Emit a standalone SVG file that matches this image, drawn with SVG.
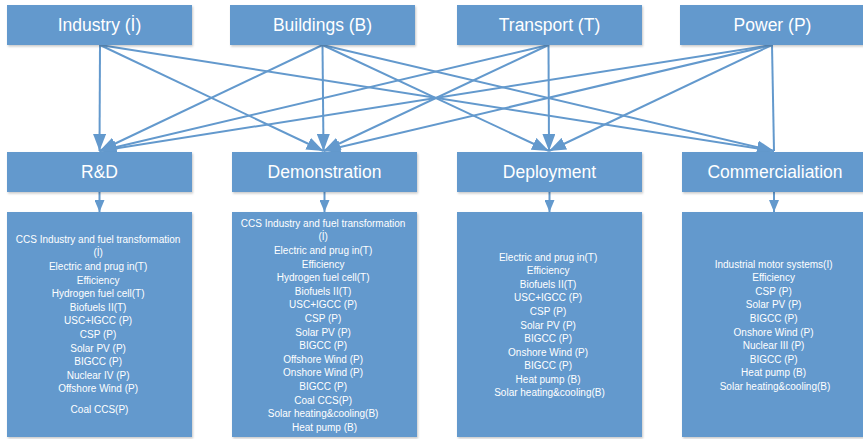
<svg xmlns="http://www.w3.org/2000/svg" width="863" height="439" viewBox="0 0 863 439">
<style>
.box{fill:#6399cd;filter:url(#sh);}
.hd{font-family:"Liberation Sans",Arial,sans-serif;font-size:17.5px;fill:#ffffff;text-anchor:middle;}
.ls{font-family:"Liberation Sans",Arial,sans-serif;font-size:10px;fill:#ffffff;text-anchor:middle;}
.cn{stroke:#6399cd;stroke-width:2;fill:none;}
</style>
<defs>
<filter id="sh" x="-5%" y="-5%" width="110%" height="120%">
<feDropShadow dx="1" dy="1.5" stdDeviation="0.8" flood-color="#000" flood-opacity="0.22"/>
</filter>
<marker id="ab" markerUnits="userSpaceOnUse" markerWidth="17" markerHeight="13" refX="17" refY="6.5" orient="auto">
<path d="M0,0 L17,6.5 L0,13 z" fill="#6399cd"/>
</marker>
<marker id="as" markerUnits="userSpaceOnUse" markerWidth="12" markerHeight="10" refX="12" refY="5" orient="auto">
<path d="M0,0 L12,5 L0,10 z" fill="#6399cd"/>
</marker>
</defs>
<rect width="863" height="439" fill="#ffffff"/>

<g id="connectors">
<line class="cn" x1="100" y1="45" x2="99.5" y2="151" marker-end="url(#ab)"/>
<line class="cn" x1="100" y1="45" x2="323.5" y2="151" marker-end="url(#ab)"/>
<line class="cn" x1="100" y1="45" x2="774" y2="151" marker-end="url(#ab)"/>
<line class="cn" x1="322.5" y1="45" x2="99.5" y2="151" marker-end="url(#ab)"/>
<line class="cn" x1="322.5" y1="45" x2="323.5" y2="151" marker-end="url(#ab)"/>
<line class="cn" x1="322.5" y1="45" x2="549" y2="151" marker-end="url(#ab)"/>
<line class="cn" x1="322.5" y1="45" x2="774" y2="151" marker-end="url(#ab)"/>
<line class="cn" x1="548.5" y1="45" x2="99.5" y2="151" marker-end="url(#ab)"/>
<line class="cn" x1="548.5" y1="45" x2="323.5" y2="151" marker-end="url(#ab)"/>
<line class="cn" x1="548.5" y1="45" x2="549" y2="151" marker-end="url(#ab)"/>
<line class="cn" x1="772" y1="45" x2="99.5" y2="151" marker-end="url(#ab)"/>
<line class="cn" x1="772" y1="45" x2="323.5" y2="151" marker-end="url(#ab)"/>
<line class="cn" x1="772" y1="45" x2="549" y2="151" marker-end="url(#ab)"/>
<line class="cn" x1="772" y1="45" x2="774" y2="151"/>
<line class="cn" x1="99.5" y1="192" x2="99.5" y2="212" marker-end="url(#as)"/>
<line class="cn" x1="324.5" y1="192" x2="324.5" y2="212" marker-end="url(#as)"/>
<line class="cn" x1="549.5" y1="192" x2="549.5" y2="212" marker-end="url(#as)"/>
<line class="cn" x1="774" y1="192" x2="774" y2="212" marker-end="url(#as)"/>
</g>

<g id="industry">
<rect class="box" x="7" y="5" width="185" height="40"/>
<text class="hd" x="99.5" y="31">Industry (İ)</text>
</g>
<g id="buildings">
<rect class="box" x="230" y="5" width="185" height="40"/>
<text class="hd" x="322.5" y="31">Buildings (B)</text>
</g>
<g id="transport">
<rect class="box" x="457" y="5" width="185" height="40"/>
<text class="hd" x="549.5" y="31">Transport (T)</text>
</g>
<g id="power">
<rect class="box" x="680" y="5" width="186" height="40"/>
<text class="hd" x="772.5" y="31">Power (P)</text>
</g>

<g id="rd">
<rect class="box" x="7" y="152" width="185" height="40"/>
<text class="hd" x="99.5" y="178">R&amp;D</text>
</g>
<g id="demonstration">
<rect class="box" x="232" y="152" width="185" height="40"/>
<text class="hd" x="324.5" y="178">Demonstration</text>
</g>
<g id="deployment">
<rect class="box" x="457" y="152" width="185" height="40"/>
<text class="hd" x="549.5" y="178">Deployment</text>
</g>
<g id="commercialiation">
<rect class="box" x="682" y="152" width="186" height="40"/>
<text class="hd" x="775" y="178">Commercialiation</text>
</g>

<g id="rd-list">
<rect class="box" x="7" y="212" width="185" height="225"/>
<text class="ls" y="242.8">
<tspan x="99.5">CCS Industry and fuel transformation</tspan>
<tspan x="99.5" dy="13.6">(İ)</tspan>
<tspan x="99.5" dy="13.6">Electric and prug in(T)</tspan>
<tspan x="99.5" dy="13.6">Efficiency</tspan>
<tspan x="99.5" dy="13.6">Hydrogen fuel cell(T)</tspan>
<tspan x="99.5" dy="13.6">Biofuels II(T)</tspan>
<tspan x="99.5" dy="13.6">USC+IGCC (P)</tspan>
<tspan x="99.5" dy="13.6">CSP (P)</tspan>
<tspan x="99.5" dy="13.6">Solar PV (P)</tspan>
<tspan x="99.5" dy="13.6">BIGCC (P)</tspan>
<tspan x="99.5" dy="13.6">Nuclear IV (P)</tspan>
<tspan x="99.5" dy="13.6">Offshore Wind (P)</tspan>
<tspan x="99.5" dy="21">Coal CCS(P)</tspan>
</text>
</g>
<g id="demonstration-list">
<rect class="box" x="232" y="212" width="185" height="225"/>
<text class="ls" y="226.8">
<tspan x="324.5">CCS Industry and fuel transformation</tspan>
<tspan x="324.5" dy="13.6">(İ)</tspan>
<tspan x="324.5" dy="13.6">Electric and prug in(T)</tspan>
<tspan x="324.5" dy="13.6">Efficiency</tspan>
<tspan x="324.5" dy="13.6">Hydrogen fuel cell(T)</tspan>
<tspan x="324.5" dy="13.6">Biofuels II(T)</tspan>
<tspan x="324.5" dy="13.6">USC+IGCC (P)</tspan>
<tspan x="324.5" dy="13.6">CSP (P)</tspan>
<tspan x="324.5" dy="13.6">Solar PV (P)</tspan>
<tspan x="324.5" dy="13.6">BIGCC (P)</tspan>
<tspan x="324.5" dy="13.6">Offshore Wind (P)</tspan>
<tspan x="324.5" dy="13.6">Onshore Wind (P)</tspan>
<tspan x="324.5" dy="13.6">BIGCC (P)</tspan>
<tspan x="324.5" dy="13.6">Coal CCS(P)</tspan>
<tspan x="324.5" dy="13.6">Solar heating&amp;cooling(B)</tspan>
<tspan x="324.5" dy="13.6">Heat pump (B)</tspan>
</text>
</g>
<g id="deployment-list">
<rect class="box" x="457" y="212" width="185" height="225"/>
<text class="ls" y="260.8">
<tspan x="549.5">Electric and prug in(T)</tspan>
<tspan x="549.5" dy="13.55">Efficiency</tspan>
<tspan x="549.5" dy="13.55">Biofuels II(T)</tspan>
<tspan x="549.5" dy="13.55">USC+IGCC (P)</tspan>
<tspan x="549.5" dy="13.55">CSP (P)</tspan>
<tspan x="549.5" dy="13.55">Solar PV (P)</tspan>
<tspan x="549.5" dy="13.55">BIGCC (P)</tspan>
<tspan x="549.5" dy="13.55">Onshore Wind (P)</tspan>
<tspan x="549.5" dy="13.55">BIGCC (P)</tspan>
<tspan x="549.5" dy="13.55">Heat pump (B)</tspan>
<tspan x="549.5" dy="13.55">Solar heating&amp;cooling(B)</tspan>
</text>
</g>
<g id="commercialiation-list">
<rect class="box" x="682" y="212" width="186" height="225"/>
<text class="ls" y="267.5">
<tspan x="775">Industrial motor systems(I)</tspan>
<tspan x="775" dy="13.6">Efficiency</tspan>
<tspan x="775" dy="13.6">CSP (P)</tspan>
<tspan x="775" dy="13.6">Solar PV (P)</tspan>
<tspan x="775" dy="13.6">BIGCC (P)</tspan>
<tspan x="775" dy="13.6">Onshore Wind (P)</tspan>
<tspan x="775" dy="13.6">Nuclear III (P)</tspan>
<tspan x="775" dy="13.6">BIGCC (P)</tspan>
<tspan x="775" dy="13.6">Heat pump (B)</tspan>
<tspan x="775" dy="13.6">Solar heating&amp;cooling(B)</tspan>
</text>
</g>
</svg>
